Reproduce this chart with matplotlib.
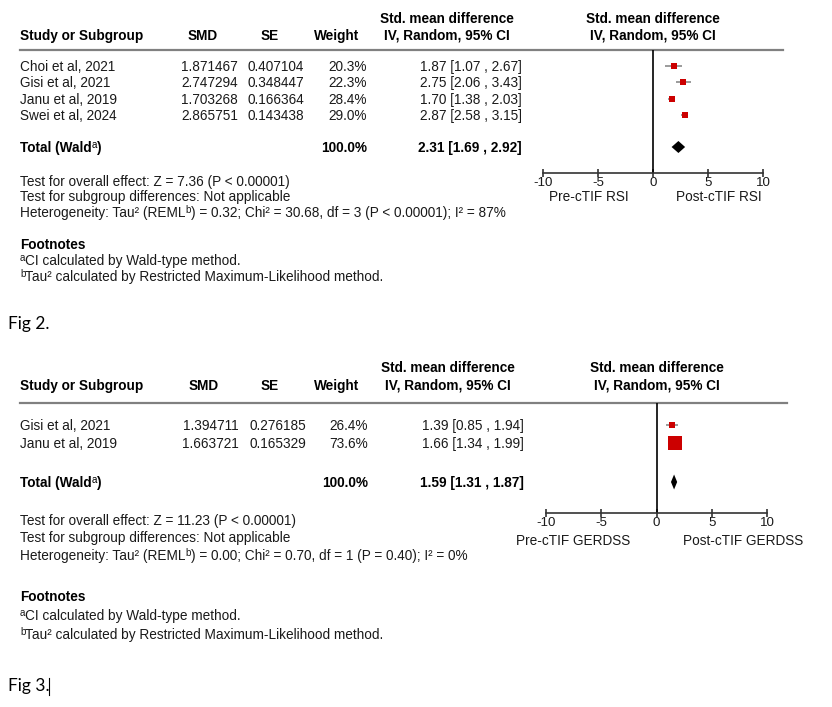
import re
import matplotlib
matplotlib.use("Agg")
import matplotlib.pyplot as plt
from matplotlib.patches import Polygon

plt.rcParams["font.family"] = ["Liberation Sans", "DejaVu Sans"]
plt.rcParams["axes.unicode_minus"] = False

W, H = 832, 707
INK = "#1a1a1a"
RED = "#cc0000"

# Fig 2 - RSI   ("^a" marks a superscript letter)
rsi_studies = ["Choi et al, 2021", "Gisi et al, 2021", "Janu et al, 2019", "Swei et al, 2024"]
rsi_smd = [1.871467, 2.747294, 1.703268, 2.865751]
rsi_se = [0.407104, 0.348447, 0.166364, 0.143438]
rsi_weight = [20.3, 22.3, 28.4, 29.0]
rsi_lo = [1.07, 2.06, 1.38, 2.58]
rsi_hi = [2.67, 3.43, 2.03, 3.15]
rsi_total = [2.31, 1.69, 2.92]  # estimate, lower, upper
rsi_stats = ["Test for overall effect: Z = 7.36 (P < 0.00001)",
             "Test for subgroup differences: Not applicable",
             "Heterogeneity: Tau² (REML^b) = 0.32; Chi² = 30.68, df = 3 (P < 0.00001); I² = 87%"]
rsi_sides = ["Pre-cTIF RSI", "Post-cTIF RSI"]

# Fig 3 - GERDSS
gerd_studies = ["Gisi et al, 2021", "Janu et al, 2019"]
gerd_smd = [1.394711, 1.663721]
gerd_se = [0.276185, 0.165329]
gerd_weight = [26.4, 73.6]
gerd_lo = [0.85, 1.34]
gerd_hi = [1.94, 1.99]
gerd_total = [1.59, 1.31, 1.87]
gerd_stats = ["Test for overall effect: Z = 11.23 (P < 0.00001)",
              "Test for subgroup differences: Not applicable",
              "Heterogeneity: Tau² (REML^b) = 0.00; Chi² = 0.70, df = 1 (P = 0.40); I² = 0%"]
gerd_sides = ["Pre-cTIF GERDSS", "Post-cTIF GERDSS"]

footnotes = ["^aCI calculated by Wald-type method.",
             "^bTau² calculated by Restricted Maximum-Likelihood method."]
ticks = [-10, -5, 0, 5, 10]

# pixel layout of each panel (text y = visual centre of a line)
L1 = dict(h1=18, h2=35, rule=50, rule_r=783, rows=[66, 82, 99, 115], total=147,
          axis=173, side=196, stats=[181, 196, 212], foot=[244, 260, 276], fig=324,
          smd_c=203, se_c=270, w_c=337, smd_r=238, se_r=304, w_r=367, ci_r=522,
          ci_c=447, fx0=543, fx1=763, side_c=[589, 719], dh=12)
L2 = dict(h1=367, h2=385, rule=403, rule_r=787, rows=[425, 443], total=482,
          axis=513, side=540, stats=[520, 537, 555], foot=[596, 615, 634], fig=686,
          smd_c=204, se_c=270, w_c=337, smd_r=239, se_r=306, w_r=368, ci_r=524,
          ci_c=448, fx0=546, fx1=767, side_c=[573, 743], dh=15)

fig = plt.figure(figsize=(W / 100, H / 100), dpi=100)
bg = fig.add_axes([0, 0, 1, 1])
bg.set_xlim(0, W); bg.set_ylim(H, 0); bg.axis("off")
renderer = fig.canvas.get_renderer()

FS = 9.8
BL = 4.6  # centre -> baseline offset in pixels
txt = dict(fontsize=FS, color=INK)
bold = dict(fontsize=FS, color="black", fontweight="bold")


def put(x, y, s, ha, style):
    if "^" not in s:
        bg.text(x, y + BL, s, ha=ha, va="baseline", **style)
        return
    # left-aligned rich text with raised small letters
    pieces = re.split(r"\^(\w)", s)
    for k, piece in enumerate(pieces):
        if not piece:
            continue
        if k % 2:
            t = bg.text(x, y + BL - 4, piece, ha="left", va="baseline",
                        fontsize=FS * 0.72, color=style["color"])
        else:
            t = bg.text(x, y + BL, piece, ha="left", va="baseline", **style)
        x = t.get_window_extent(renderer).x1


def panel(L, studies, smd, se, weight, lo, hi, total, stats, sides, label):
    fc = (L["fx0"] + L["fx1"]) / 2
    put(L["ci_c"], L["h1"], "Std. mean difference", "center", bold)
    put(fc, L["h1"], "Std. mean difference", "center", bold)
    put(20, L["h2"], "Study or Subgroup", "left", bold)
    put(L["smd_c"], L["h2"], "SMD", "center", bold)
    put(L["se_c"], L["h2"], "SE", "center", bold)
    put(L["w_c"], L["h2"], "Weight", "center", bold)
    put(L["ci_c"], L["h2"], "IV, Random, 95% CI", "center", bold)
    put(fc, L["h2"], "IV, Random, 95% CI", "center", bold)
    bg.plot([20, L["rule_r"]], [L["rule"], L["rule"]], color="#808080", lw=1.6)

    for i, name in enumerate(studies):
        y = L["rows"][i]
        put(20, y, name, "left", txt)
        put(L["smd_r"], y, f"{smd[i]:.6f}", "right", txt)
        put(L["se_r"], y, f"{se[i]:.6f}", "right", txt)
        put(L["w_r"], y, f"{weight[i]:.1f}%", "right", txt)
        put(L["ci_r"], y, f"{smd[i]:.2f} [{lo[i]:.2f} , {hi[i]:.2f}]", "right", txt)
    y = L["total"]
    put(20, y, "Total (Wald^a)", "left", bold)
    put(L["w_r"], y, f"{sum(weight):.1f}%", "right", bold)
    put(L["ci_r"], y, f"{total[0]:.2f} [{total[1]:.2f} , {total[2]:.2f}]", "right", bold)

    for s, yy in zip(stats, L["stats"]):
        put(20, yy, s, "left", txt)
    put(20, L["foot"][0], "Footnotes", "left", bold)
    for s, yy in zip(footnotes, L["foot"][1:]):
        put(20, yy, s, "left", txt)
    for s, xx in zip(sides, L["side_c"]):
        put(xx, L["side"], s, "center", txt)
    bg.text(8, L["fig"] + 5.5, label, ha="left", va="baseline", fontsize=12.5,
            family=["Lato", "DejaVu Sans"], color="black")

    # forest plot area
    ax = fig.add_axes([L["fx0"] / W, 1 - L["axis"] / H,
                       (L["fx1"] - L["fx0"]) / W, (L["axis"] - L["rule"]) / H])
    ax.set_xlim(-10, 10); ax.set_ylim(L["axis"], L["rule"])
    ax.patch.set_alpha(0)
    for sp in ["top", "left", "right"]:
        ax.spines[sp].set_visible(False)
    ax.spines["bottom"].set_color("#333333"); ax.spines["bottom"].set_linewidth(1.2)
    ax.set_yticks([])
    ax.set_xticks(ticks)
    ax.tick_params(axis="x", direction="inout", length=6, width=1.2, color="#333333",
                   labelsize=9.6, labelcolor=INK, pad=0)
    ax.axvline(0, color="black", lw=1.2)
    for i in range(len(studies)):
        y = L["rows"][i]
        ax.plot([lo[i], hi[i]], [y, y], color="#8a8a8a", lw=1.2, solid_capstyle="butt")
        px = 2.3 + 0.159 * weight[i]
        ax.plot(smd[i], y, marker="s", ms=px * 0.72, color=RED, mec=RED, mew=0)
    est, tlo, thi = total
    y = L["total"]; h = L["dh"] / 2
    ax.add_patch(Polygon([(tlo, y), (est, y - h), (thi, y), (est, y + h)],
                         closed=True, color="black", lw=0))


panel(L1, rsi_studies, rsi_smd, rsi_se, rsi_weight, rsi_lo, rsi_hi, rsi_total,
      rsi_stats, rsi_sides, "Fig 2.")
panel(L2, gerd_studies, gerd_smd, gerd_se, gerd_weight, gerd_lo, gerd_hi, gerd_total,
      gerd_stats, gerd_sides, "Fig 3.")
# text cursor after the last caption
bg.plot([49, 49], [678, 695], color="black", lw=0.8)

fig.savefig("out.png", dpi=100, facecolor="white")
